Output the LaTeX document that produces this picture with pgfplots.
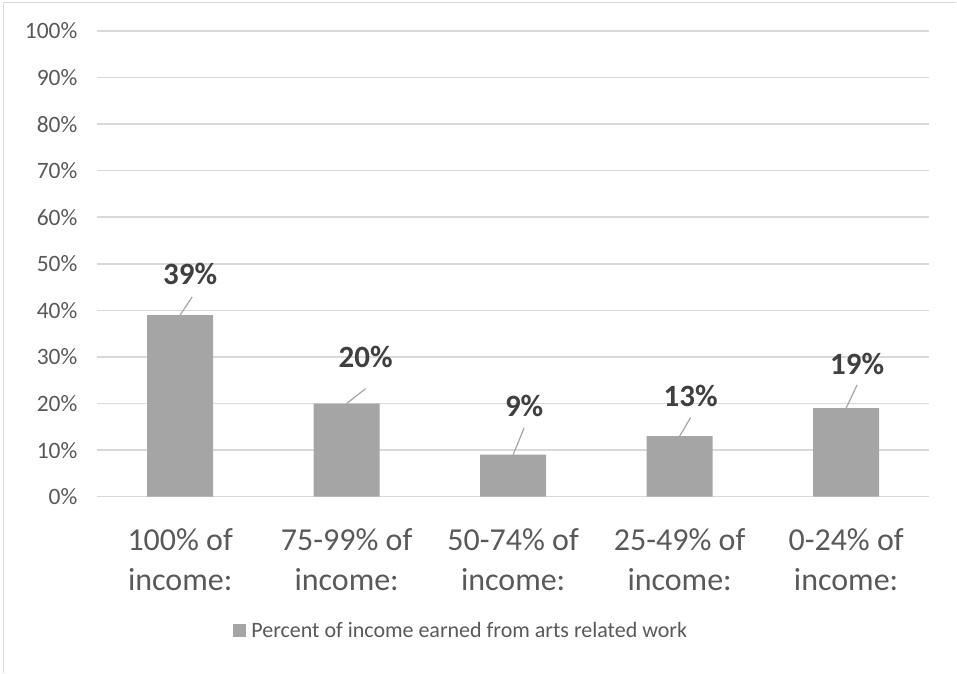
\documentclass[border=0pt]{standalone}
\usepackage{pgfplots}
\pgfplotsset{compat=1.18}
\usepackage{fontspec}
\setmainfont{Carlito}
\definecolor{barc}{HTML}{A5A5A5}
\definecolor{gridc}{HTML}{D9D9D9}
\definecolor{tickc}{HTML}{595959}
\definecolor{labc}{HTML}{404040}
\definecolor{leadc}{HTML}{A6A6A6}
\begin{document}
\begin{tikzpicture}
\path (0,0) rectangle (957pt,673pt);
\draw[gridc, line width=1.3pt] (3.5pt,0) -- (3.5pt,670.5pt) -- (957pt,670.5pt);
\begin{axis}[
  at={(97pt,176pt)}, anchor=south west,
  scale only axis, width=833pt, height=466pt,
  xmin=-0.5, xmax=4.5, ymin=0, ymax=100,
  ybar, bar width=66pt,
  axis line style={draw=none},
  major tick length=0pt,
  ymajorgrids, grid style={gridc, line width=1.5pt},
  ytick={0,10,...,100},
  yticklabels={0\%,10\%,20\%,30\%,40\%,50\%,60\%,70\%,80\%,90\%,100\%},
  yticklabel style={font=\fontsize{23.5}{28}\selectfont, text=tickc, xshift=-16pt},
  xtick={0,1,2,3,4},
  xticklabels={{100\% of\\income:},{75-99\% of\\income:},{50-74\% of\\income:},{25-49\% of\\income:},{0-24\% of\\income:}},
  xticklabel style={font=\fontsize{32}{40}\selectfont, text=tickc, align=center, yshift=-28pt},
  legend style={at={(0.4376,-0.2876)}, anchor=center, draw=none, fill=none,
    font=\fontsize{22}{26}\selectfont, text=tickc, inner sep=0pt,
    /tikz/every even column/.append style={column sep=0pt}},
  legend cell align=left,
  legend image code/.code={\fill[barc] (0pt,-6.5pt) rectangle (13pt,6.5pt);},
  clip=false,
]
\addplot[fill=barc, draw=none] coordinates {(0,39) (1,20) (2,9) (3,13) (4,19)};
\addlegendentry{\hspace{3pt}Percent of income earned from arts related work}
\draw[leadc, line width=1.2pt] (axis cs:0,39) -- (axis cs:0.072,42.9);
\draw[leadc, line width=1.2pt] (axis cs:1,20) -- (axis cs:1.114,23.2);
\draw[leadc, line width=1.2pt] (axis cs:2,9) -- (axis cs:2.066,14.8);
\draw[leadc, line width=1.2pt] (axis cs:3,13) -- (axis cs:3.066,17.0);
\draw[leadc, line width=1.2pt] (axis cs:4,19) -- (axis cs:4.066,24.0);
\begin{scope}[every node/.style={font=\fontsize{31}{34}\selectfont\bfseries, text=labc}]
\node at (axis cs:0.06,47.9) {39\%};
\node at (axis cs:1.114,30.0) {20\%};
\node at (axis cs:2.066,19.5) {9\%};
\node at (axis cs:3.066,21.7) {13\%};
\node at (axis cs:4.066,28.5) {19\%};
\end{scope}
\end{axis}
\end{tikzpicture}
\end{document}
